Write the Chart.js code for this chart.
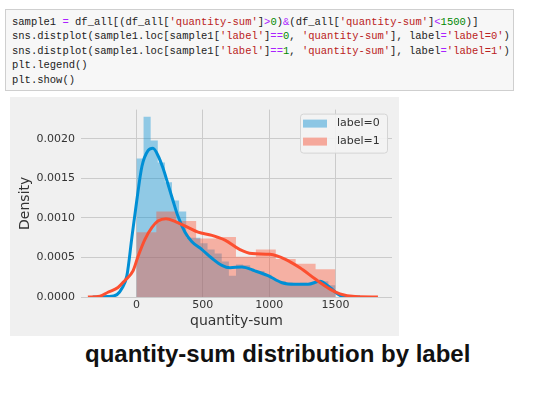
<!DOCTYPE html>
<html>
<head>
<meta charset="utf-8">
<script src="https://cdn.jsdelivr.net/npm/chart.js@4.4.0/dist/chart.umd.min.js"></script>
<style>
  body { margin: 0; background: #fff; width: 553px; height: 394px; overflow: hidden; position: relative; }
  .code { position: absolute; left: 5px; top: 9px; width: 507px; height: 80px; background: #f7f7f7; border: 1px solid #cfcfcf; }
  .code pre { margin: 0; position: absolute; left: 6px; top: 5px; font-family: "Liberation Mono", monospace; font-size: 10.5px; line-height: 14.4px; color: #222; }
  .o { color: #aa22ff; }
  .s { color: #ba2121; }
  .n { color: #008800; }
  .panel { position: absolute; left: 10px; top: 97px; width: 389px; height: 239px; background: #f0f0f0; }
  .caption { position: absolute; left: 85px; top: 342px; font-family: "Liberation Sans", Arial, sans-serif; font-weight: bold; font-size: 24px; line-height: 24px; color: #111; white-space: nowrap; }
</style>
</head>
<body>
<div class="code"><pre>sample1 <span class="o">=</span> df_all[(df_all[<span class="s">'quantity-sum'</span>]<span class="o">&gt;</span><span class="n">0</span>)<span class="o">&amp;</span>(df_all[<span class="s">'quantity-sum'</span>]<span class="o">&lt;</span><span class="n">1500</span>)]
sns.distplot(sample1.loc[sample1[<span class="s">'label'</span>]<span class="o">==</span><span class="n">0</span>, <span class="s">'quantity-sum'</span>], label<span class="o">=</span><span class="s">'label=0'</span>)
sns.distplot(sample1.loc[sample1[<span class="s">'label'</span>]<span class="o">==</span><span class="n">1</span>, <span class="s">'quantity-sum'</span>], label<span class="o">=</span><span class="s">'label=1'</span>)
plt.legend()
plt.show()</pre></div>
<div class="panel"><canvas id="myChart"></canvas></div>
<div class="caption">quantity-sum distribution by label</div>
<script>
// histogram densities (label=0 has 28 bins over 0..1500, label=1 has 10 bins)
var blueDensity = [0.00175, 0.00228, 0.00198, 0.0017, 0.00145, 0.00122, 0.00108, 0.00075, 0.00075, 0.00068,
  0.0006, 0.00055, 0.00045, 0.00027, 0.00041, 0.0004, 0.00033, 0.00033, 0.00028, 0.00022,
  0.0002, 0.00018, 0.00017, 0.00018, 0.00017, 0.0002, 0.0002, 0.00015];
var redDensity = [0.00082, 0.00108, 0.00096, 0.00074, 0.00076, 0.00051, 0.0006, 0.00048, 0.00042, 0.00035];
var histMax = 1500;

// kde curves
var blueKdeX = [-329, -215, -147, -109, -72, -34, 4, 41, 87, 124, 162, 200, 237, 275, 313, 366, 418, 494,
  569, 644, 705, 795, 893, 991, 1097, 1195, 1293, 1383, 1458, 1534, 1609, 1685];
var blueKdeY = [0, 0.000005, 0.00003, 0.00011, 0.00027, 0.00076, 0.00124, 0.00165, 0.00185, 0.00188, 0.00179,
  0.00163, 0.00143, 0.00122, 0.00102, 0.00082, 0.0007, 0.0006, 0.00049, 0.0004, 0.00037, 0.00038, 0.00033,
  0.00027, 0.00018, 0.00016, 0.00016, 0.0002, 0.00012, 0.00002, 0, 0];
var redKdeX = [-366, -275, -215, -139, -87, -26, 11, 64, 117, 162, 222, 298, 388, 464, 569, 667, 780, 871,
  1006, 1119, 1232, 1345, 1458, 1534, 1647, 1820];
var redKdeY = [0, 0.00001, 0.00006, 0.00012, 0.00021, 0.00033, 0.00051, 0.00073, 0.00088, 0.00096, 0.00099,
  0.00095, 0.00088, 0.00082, 0.00078, 0.00072, 0.0006, 0.00055, 0.00054, 0.00048, 0.00037, 0.00023, 0.0001,
  0.00004, 0.000006, 0];

var xTicks = [0, 500, 1000, 1500];
var yTicks = [0, 0.0005, 0.001, 0.0015, 0.002];
var labels = ['label=0', 'label=1'];

var blue = '#008fd5';
var red = '#fc4f30';

function stepPoints(dens) {
  var w = histMax / dens.length;
  var pts = dens.map(function (d, i) { return { x: i * w, y: d }; });
  pts.push({ x: histMax, y: 0 });
  return pts;
}
function curvePoints(xs, ys) {
  return xs.map(function (x, i) { return { x: x, y: ys[i] }; });
}

// boxed legend inside the plot, like matplotlib
var boxLegend = {
  id: 'boxLegend',
  afterDatasetsDraw: function (chart) {
    var c = chart.ctx, a = chart.chartArea;
    var items = chart.data.datasets.filter(function (d) { return d.legendLabel; });
    items.sort(function (p, q) { return p.legendIndex - q.legendIndex; });
    var w = 87, h = 39;
    var x = a.right - w - 5, y = a.top + 4;
    c.save();
    c.beginPath();
    c.roundRect(x + 0.5, y + 0.5, w, h, 3);
    c.fillStyle = 'rgba(243,243,243,0.9)';
    c.fill();
    c.strokeStyle = '#d4d4d4';
    c.lineWidth = 1;
    c.stroke();
    c.font = '11px "DejaVu Sans"';
    c.textBaseline = 'middle';
    items.forEach(function (d, i) {
      var cy = y + 10 + i * 18;
      c.fillStyle = d.legendColor;
      c.fillRect(x + 3, cy - 4, 24, 8);
      c.fillStyle = '#333';
      c.fillText(d.legendLabel, x + 37, cy);
    });
    c.restore();
  }
};

var ctx = document.getElementById('myChart');

// index 0 is drawn last: kde lines sit above both histograms
var myChart = new Chart(ctx, {
  type: 'line',
  data: {
    datasets: [{
      data: curvePoints(redKdeX, redKdeY),
      borderColor: red,
      borderWidth: 3,
      pointRadius: 0,
      cubicInterpolationMode: 'monotone',
      fill: false
    }, {
      data: curvePoints(blueKdeX, blueKdeY),
      borderColor: blue,
      borderWidth: 3,
      pointRadius: 0,
      cubicInterpolationMode: 'monotone',
      fill: false
    }, {
      data: stepPoints(redDensity),
      stepped: 'before',
      borderWidth: 0,
      pointRadius: 0,
      backgroundColor: 'rgba(252, 79, 48, 0.4)',
      fill: 'origin',
      legendLabel: labels[1],
      legendIndex: 1,
      legendColor: 'rgba(245, 168, 155, 1)'
    }, {
      data: stepPoints(blueDensity),
      stepped: 'before',
      borderWidth: 0,
      pointRadius: 0,
      backgroundColor: 'rgba(0, 143, 213, 0.4)',
      fill: 'origin',
      legendLabel: labels[0],
      legendIndex: 0,
      legendColor: 'rgba(140, 198, 228, 1)'
    }]
  },
  options: {
    responsive: true,
    maintainAspectRatio: false,
    animation: false,
    layout: { padding: { top: 6, right: 7, left: 0, bottom: 0 } },
    plugins: { legend: { display: false }, tooltip: { enabled: false } },
    scales: {
      x: {
        type: 'linear',
        min: -418,
        max: 1926,
        afterBuildTicks: function (s) { s.ticks = xTicks.map(function (v) { return { value: v }; }); },
        afterFit: function (s) { s.height = 39; },
        border: { display: false },
        grid: { color: '#cbcbcb', lineWidth: 1, drawTicks: false },
        ticks: {
          padding: 2, color: '#333', font: { family: 'DejaVu Sans', size: 11 },
          callback: function (v) { return String(v); }
        },
        title: { display: true, text: 'quantity-sum', color: '#333', padding: { top: 0, bottom: 6 }, font: { family: 'DejaVu Sans', size: 14 } }
      },
      y: {
        min: 0,
        max: 0.00237,
        afterBuildTicks: function (s) { s.ticks = yTicks.map(function (v) { return { value: v }; }); },
        afterFit: function (s) { s.width = 71; },
        border: { display: false },
        grid: { color: '#cbcbcb', lineWidth: 1, drawTicks: false },
        ticks: {
          padding: 6, color: '#333', font: { family: 'DejaVu Sans', size: 11 },
          callback: function (v) { return v.toFixed(4); }
        },
        title: { display: true, text: 'Density', color: '#333', padding: { top: 7, bottom: 0 }, font: { family: 'DejaVu Sans', size: 14 } }
      }
    }
  },
  plugins: [boxLegend]
});
</script>
</body>
</html>
